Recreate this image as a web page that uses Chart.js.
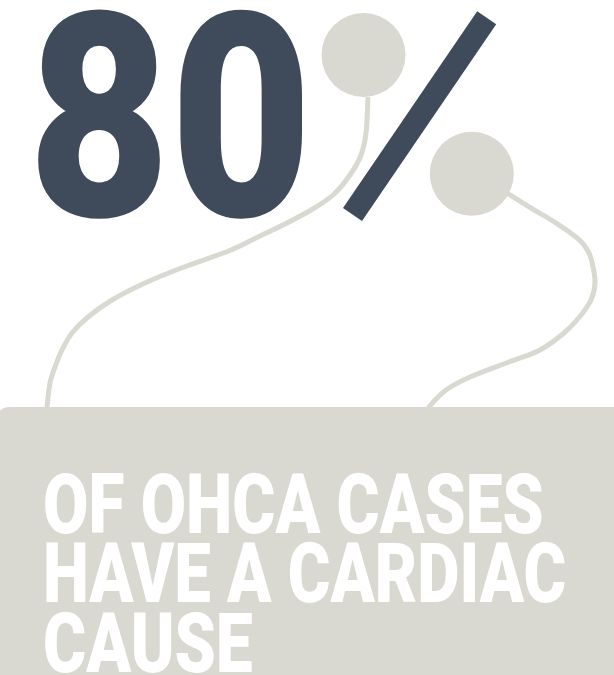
<!DOCTYPE html>
<html>
<head>
<meta charset="utf-8">
<script src="https://cdn.jsdelivr.net/npm/chart.js@4.4.0/dist/chart.umd.min.js"></script>
<style>
  html, body { margin: 0; padding: 0; background: #fff; }
  #wrap { position: relative; width: 614px; height: 675px; overflow: hidden; }
  #chart { position: absolute; left: 0; top: 0; z-index: 1; }
  #panel {
    position: absolute; left: -6px; top: 407px; width: 660px; height: 300px;
    background: #d9d9d1; border-radius: 16px 16px 0 0; z-index: 2;
  }
  .txt {
    position: absolute; white-space: pre; transform-origin: 0 0; z-index: 3;
    font-family: Roboto, 'DejaVu Sans', sans-serif; font-weight: 900;
  }
  #stat { color: #3f4a5b; }
  .cap { color: #fff; }
</style>
</head>
<body>
<div id="wrap">
  <canvas id="chart" width="614" height="675"></canvas>
  <div id="panel"></div>
  <div id="stat" class="txt"></div>
  <div id="cap0" class="txt cap"></div>
  <div id="cap1" class="txt cap"></div>
  <div id="cap2" class="txt cap"></div>
</div>
<script>
// ─── data ───
const statValues = [80];
const captionLines = ['OF OHCA CASES', 'HAVE A CARDIAC', 'CAUSE'];

// the "%" sign: two dots, a slash, two cords (layout grid = page units)
const dotX = [363.5, 471.8];
const dotY = [55, 173.8];
const slashX = [486.7, 352.5];
const slashY = [17.8, 214.5];
const leftCordX = [368, 366, 361, 350, 333, 311, 285, 260, 231, 184, 145, 112, 88, 72, 62, 55, 50, 47, 46];
const leftCordY = [97, 133, 155, 175, 195, 210, 224, 236, 250, 267, 283, 300, 317, 333, 350, 367, 383, 407, 416];
const rightCordX = [507, 528.6, 556, 579.5, 589, 593, 595, 591, 579.5, 564, 540, 509, 470, 446, 429, 424];
const rightCordY = [193, 206.7, 223, 240, 253, 267, 283, 300, 317, 333, 350, 362, 377, 390, 407, 416];

const pts = (xs, ys) => xs.map((x, i) => ({ x, y: ys[i] }));

const DARK = '#3f4a5b';
const LIGHT = '#d9d9d1';

new Chart(document.getElementById('chart').getContext('2d'), {
    type: 'scatter',
    data: {
        datasets: [
            {   // dots
                data: pts(dotX, dotY),
                pointRadius: 42,
                pointBackgroundColor: LIGHT,
                pointBorderWidth: 0,
                showLine: false
            },
            {   // slash
                data: pts(slashX, slashY),
                showLine: true,
                borderColor: DARK,
                borderWidth: 23,
                borderCapStyle: 'butt',
                pointRadius: 0
            },
            {
                data: pts(leftCordX, leftCordY),
                showLine: true,
                borderColor: LIGHT,
                borderWidth: 5,
                tension: 0.35,
                pointRadius: 0
            },
            {
                data: pts(rightCordX, rightCordY),
                showLine: true,
                borderColor: LIGHT,
                borderWidth: 5,
                tension: 0.35,
                pointRadius: 0
            }
        ]
    },
    options: {
        responsive: false,
        animation: false,
        layout: { padding: 0, autoPadding: false },
        scales: {
            x: { type: 'linear', min: 0, max: 614, display: false },
            y: { type: 'linear', min: 0, max: 675, reverse: true, display: false }
        },
        plugins: { legend: { display: false }, tooltip: { enabled: false } },
        events: []
    }
});

// ─── text fitting: ink box -> font size, horizontal condense ───
const mctx = document.createElement('canvas').getContext('2d');
const FAM = "Roboto, 'DejaVu Sans', sans-serif";

function fitText(el, text, left, right, top, bottom) {
    mctx.font = `900 100px ${FAM}`;
    let m = mctx.measureText(text);
    const size = (bottom - top) / ((m.actualBoundingBoxAscent + m.actualBoundingBoxDescent) / 100);
    mctx.font = `900 ${size}px ${FAM}`;
    m = mctx.measureText(text);
    const inkW = m.actualBoundingBoxLeft + m.actualBoundingBoxRight;
    const sx = (right - left) / inkW;
    const baseline = bottom - m.actualBoundingBoxDescent;
    el.textContent = text;
    el.style.fontSize = size + 'px';
    el.style.lineHeight = (m.fontBoundingBoxAscent + m.fontBoundingBoxDescent) + 'px';
    el.style.top = (baseline - m.fontBoundingBoxAscent) + 'px';
    el.style.left = (left + m.actualBoundingBoxLeft * sx) + 'px';
    el.style.transform = `scaleX(${sx})`;
}

fitText(document.getElementById('stat'), String(statValues[0]), 36, 304.6, 11.7, 220.7);
fitText(document.getElementById('cap0'), captionLines[0], 45, 542.3, 472.3, 534);
fitText(document.getElementById('cap1'), captionLines[1], 45.8, 564.6, 541.7, 603.3);
fitText(document.getElementById('cap2'), captionLines[2], 45, 252.5, 610.7, 672.7);
</script>
</body>
</html>
